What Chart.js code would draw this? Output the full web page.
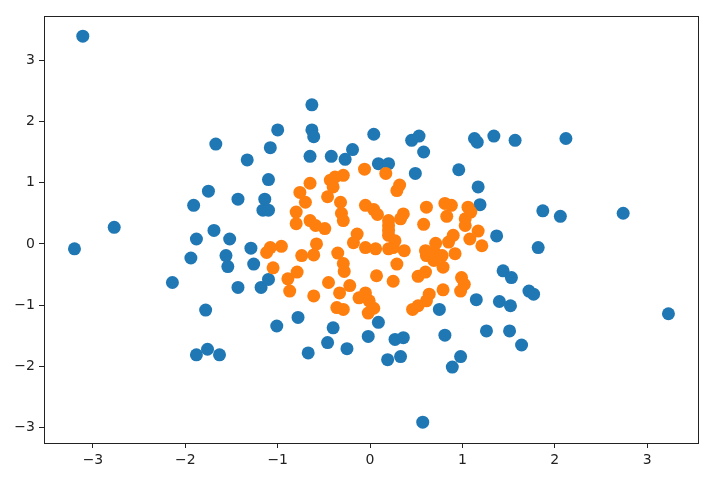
<!DOCTYPE html>
<html>
<head>
<meta charset="utf-8">
<script src="https://cdn.jsdelivr.net/npm/chart.js@4/dist/chart.umd.min.js"></script>
<style>
html,body{margin:0;padding:0;background:#fff;}
canvas{display:block;}
</style>
</head>
<body>
<canvas id="c" width="726" height="486"></canvas>
<script>
const blueX = [-3.11,-3.20,-2.77,-2.14,-1.78,-1.91,-1.75,-1.43,-1.10,-1.14,-1.16,-1.10,-1.88,-1.69,-1.52,-1.94,-1.56,-1.54,-1.29,-1.26,-1.43,-1.18,-1.10,-1.01,-1.67,-1.33,-1.08,-1.00,-0.63,-0.63,-0.61,-0.65,-0.42,-0.19,-0.27,0.04,0.09,0.20,0.45,0.53,0.58,0.49,0.96,1.13,1.16,1.34,1.17,1.19,1.37,1.57,2.12,1.87,2.06,2.74,1.82,1.44,1.53,1.72,1.77,1.15,1.40,1.52,3.23,1.26,1.51,1.64,0.75,0.81,0.98,0.89,0.57,-1.76,-1.88,-1.63,-0.78,-0.67,-0.40,-0.46,-0.25,-0.02,0.09,0.27,0.36,0.19,0.33];
const blueY = [3.39,-0.08,0.27,-0.63,-1.08,0.63,0.86,0.73,1.05,0.73,0.55,0.55,0.08,0.22,0.08,-0.23,-0.19,-0.37,-0.07,-0.33,-0.71,-0.71,-0.58,-1.34,1.63,1.37,1.57,1.86,2.27,1.86,1.75,1.43,1.43,1.54,1.38,1.79,1.31,1.31,1.69,1.76,1.50,1.15,1.21,1.72,1.66,1.76,0.93,0.64,0.13,1.69,1.72,0.54,0.45,0.50,-0.06,-0.44,-0.55,-0.77,-0.82,-0.91,-0.94,-1.01,-1.14,-1.42,-1.42,-1.65,-1.07,-1.49,-1.84,-2.01,-2.91,-1.72,-1.81,-1.81,-1.20,-1.78,-1.37,-1.61,-1.71,-1.51,-1.28,-1.56,-1.53,-1.89,-1.84];
const orangeX = [-0.65,-0.76,-0.70,-0.80,-0.80,-0.65,-0.59,-0.49,-0.43,-0.38,-0.29,-0.46,-0.40,-0.32,-0.31,-0.29,-0.06,0.17,0.29,0.32,-0.05,0.04,0.08,0.20,0.36,0.33,0.20,-0.14,-0.18,0.61,0.58,0.81,0.88,0.83,1.06,1.09,1.03,1.03,1.17,1.08,1.21,0.90,0.85,0.71,0.70,0.61,0.92,0.79,0.60,0.52,0.99,1.02,0.98,0.79,0.64,0.61,0.52,0.46,0.78,0.69,0.60,0.20,0.27,0.25,0.37,0.29,0.20,0.06,-0.05,-0.35,-0.29,-0.28,-0.22,-0.45,-0.33,-0.36,-0.29,-0.12,-0.05,-0.01,0.04,-0.02,0.07,0.25,-0.58,-0.61,-0.74,-0.96,-1.12,-1.05,-0.79,-0.89,-0.87,-0.61,-1.08,0.20];
const orangeY = [0.99,0.84,0.68,0.52,0.33,0.38,0.30,0.25,1.04,1.09,1.12,0.77,0.93,0.68,0.50,0.38,1.22,1.15,0.87,0.96,0.63,0.56,0.48,0.38,0.49,0.41,0.30,0.16,0.02,0.60,0.32,0.66,0.63,0.45,0.60,0.52,0.41,0.30,0.21,0.08,-0.03,0.14,0.03,0.01,-0.14,-0.19,-0.16,-0.38,-0.46,-0.53,-0.55,-0.66,-0.77,-0.75,-0.82,-0.93,-1.01,-1.07,-0.19,-0.27,-0.11,0.14,0.05,-0.06,-0.11,-0.33,-0.08,-0.08,-0.06,-0.15,-0.32,-0.45,-0.68,-0.63,-0.80,-1.04,-1.07,-0.88,-0.80,-0.93,-1.05,-1.13,-0.52,-0.61,0.00,-0.18,-0.19,-0.04,-0.14,-0.39,-0.46,-0.57,-0.77,-0.85,-0.06,0.22];
const tickValues = [-3,-2,-1,0,1,2,3];

function pts(xs, ys){ return xs.map((x,i)=>({x:x, y:ys[i]})); }
function fmt(v){ return v < 0 ? '\u2212' + Math.abs(v) : String(v); }

const frame = {
  id: 'frame',
  afterDraw(chart){
    const a = chart.chartArea, ctx = chart.ctx;
    ctx.save();
    ctx.strokeStyle = '#222';
    ctx.lineWidth = 1;
    ctx.strokeRect(Math.round(a.left)+0.5, Math.round(a.top)+0.5, Math.round(a.right-a.left), Math.round(a.bottom-a.top));
    ctx.restore();
  }
};

const axisCommon = {
  type: 'linear',
  grid: { drawOnChartArea: false, drawTicks: true, tickLength: 5, color: '#222', lineWidth: 1 },
  border: { display: true, color: '#222', width: 1 },
  ticks: { color: '#222', font: { family: 'DejaVu Sans', size: 14 }, padding: 4, callback: v => fmt(v) },
  afterBuildTicks: s => { s.ticks = tickValues.map(v => ({ value: v })); }
};

new Chart(document.getElementById('c'), {
  type: 'scatter',
  data: {
    datasets: [
      { data: pts(blueX, blueY), backgroundColor: '#1f77b4', borderWidth: 0, pointRadius: 6.5, order: 2 },
      { data: pts(orangeX, orangeY), backgroundColor: '#ff7f0e', borderWidth: 0, pointRadius: 6.5, order: 1 }
    ]
  },
  options: {
    responsive: false,
    animation: false,
    devicePixelRatio: 1,
    layout: { padding: { top: 16, right: 28, left: 0, bottom: 0 } },
    plugins: { legend: { display: false }, tooltip: { enabled: false } },
    scales: {
      x: Object.assign({}, axisCommon, { min: -3.53, max: 3.55, afterFit: s => { s.height = 43; } }),
      y: Object.assign({}, axisCommon, { min: -3.25, max: 3.72, afterFit: s => { s.width = 44; } })
    }
  },
  plugins: [frame]
});
</script>
</body>
</html>
